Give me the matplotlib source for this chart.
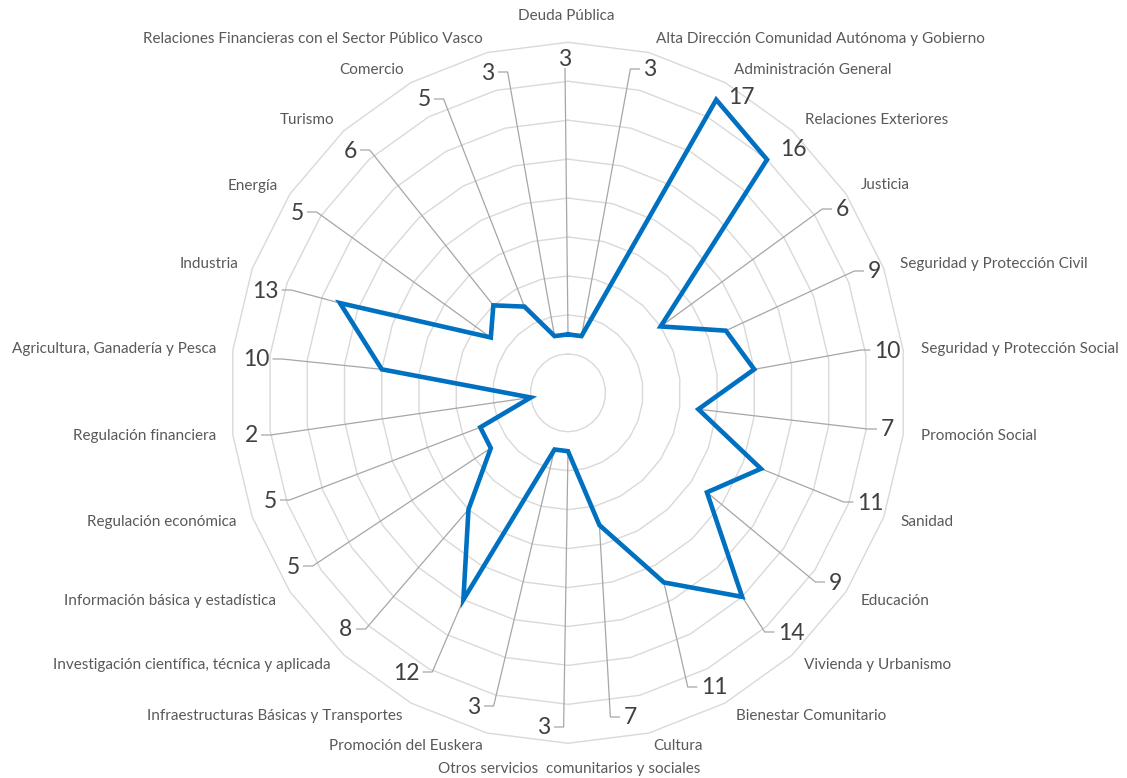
import numpy as np
import matplotlib
matplotlib.use("Agg")
import matplotlib.pyplot as plt

# --- data -------------------------------------------------------------
categories = [
    "Deuda Pública",
    "Alta Dirección Comunidad Autónoma y Gobierno",
    "Administración General",
    "Relaciones Exteriores",
    "Justicia",
    "Seguridad y Protección Civil",
    "Seguridad y Protección Social",
    "Promoción Social",
    "Sanidad",
    "Educación",
    "Vivienda y Urbanismo",
    "Bienestar Comunitario",
    "Cultura",
    "Otros servicios  comunitarios y sociales",
    "Promoción del Euskera",
    "Infraestructuras Básicas y Transportes",
    "Investigación científica, técnica y aplicada",
    "Información básica y estadística",
    "Regulación económica",
    "Regulación financiera",
    "Agricultura, Ganadería y Pesca",
    "Industria",
    "Energía",
    "Turismo",
    "Comercio",
    "Relaciones Financieras con el Sector Público Vasco",
]
values = [3, 3, 17, 16, 6, 9, 10, 7, 11, 9, 14, 11, 7,
          3, 3, 12, 8, 5, 5, 2, 10, 13, 5, 6, 5, 3]
grid_levels = [2, 4, 6, 8, 10, 12, 14, 16, 18]

# --- layout -----------------------------------------------------------
W, H = 1127, 778
CX, CY = 568.0, 392.8          # chart centre (pixels from top-left)
SX, SY = 18.76, 19.47          # pixels per unit

# value-label centres (pixels from top-left) and side of the leader stub
value_label_pos = [(565, 60), (650, 70), (741, 97), (793, 150), (842, 210),
                   (874, 272), (887, 351), (887, 430), (870, 503), (835, 583),
                   (791, 633), (714, 688), (630, 718), (544, 728), (474, 707),
                   (406, 673), (346, 630), (293, 567), (270, 501), (251, 436),
                   (256, 360), (265, 291), (297, 213), (350, 151), (424, 100),
                   (488, 73)]
leader_side = ["B", "L", None, None, "L", "L", "L", "L", "L", "L", "L", "L",
               "L", "R", "R", "R", "R", "R", "R", "R", "R", "R", "R", "R",
               "R", "R"]
category_label_pos = [(566, 16), (820, 39), (813, 70), (877, 120), (885, 185),
                      (994, 264), (1020, 349), (979, 436), (927, 522),
                      (895, 601), (878, 665), (811, 716), (678, 746),
                      (569, 769), (406, 746), (275, 716), (192, 665),
                      (170, 601), (162, 522), (145, 436), (114, 349),
                      (209, 264), (253, 186), (307, 120), (372, 70),
                      (313, 39)]

FONT = ["Lato", "DejaVu Sans"]
plt.rcParams["font.family"] = FONT

fig = plt.figure(figsize=(W / 100, H / 100), dpi=100)
fig.patch.set_facecolor("white")
ax = fig.add_axes([0, 0, 1, 1])
ax.set_axis_off()
ax.set_xlim(-CX / SX, (W - CX) / SX)
ax.set_ylim(-(H - CY) / SY, CY / SY)

n = len(categories)
theta = np.arange(n) * 2 * np.pi / n
sin_t, cos_t = np.sin(theta), np.cos(theta)

# polygonal grid rings
for lvl in grid_levels:
    gx = np.append(lvl * sin_t, lvl * sin_t[0])
    gy = np.append(lvl * cos_t, lvl * cos_t[0])
    ax.plot(gx, gy, color="#D9D9D9", lw=1.0, zorder=1)

# series
vals = np.array(values, dtype=float)
px = vals * sin_t
py = vals * cos_t
ax.plot(np.append(px, px[0]), np.append(py, py[0]), color="#0070C0",
        lw=3.3, solid_joinstyle="miter", zorder=4)

# category labels
for name, (lx, ly) in zip(categories, category_label_pos):
    fig.text(lx / W, 1 - ly / H, name, ha="center", va="center",
             fontsize=11, color="#595959")

# value labels
value_texts = []
for v, (lx, ly) in zip(values, value_label_pos):
    t = fig.text(lx / W, 1 - ly / H, f"{v}", ha="center", va="center",
                 fontsize=16.5, color="#404040")
    value_texts.append(t)

# leader lines from each point to its label
fig.canvas.draw()
renderer = fig.canvas.get_renderer()
inv = ax.transData.inverted()
for i, side in enumerate(leader_side):
    if side is None:
        continue
    bb = value_texts[i].get_window_extent(renderer)
    pt = ax.transData.transform((px[i], py[i]))
    yc = (bb.y0 + bb.y1) / 2 + 1
    if side == "L":
        pts = [(bb.x0 - 4, yc), (bb.x0 - 13, yc), tuple(pt)]
    elif side == "R":
        pts = [(bb.x1 + 4, yc), (bb.x1 + 13, yc), tuple(pt)]
    else:
        xc = (bb.x0 + bb.x1) / 2
        pts = [(xc, bb.y0 + 2), tuple(pt)]
    dpts = inv.transform(np.array(pts))
    ax.plot(dpts[:, 0], dpts[:, 1], color="#A6A6A6", lw=0.9, zorder=2)

fig.savefig("out.png", dpi=100, facecolor="white")
